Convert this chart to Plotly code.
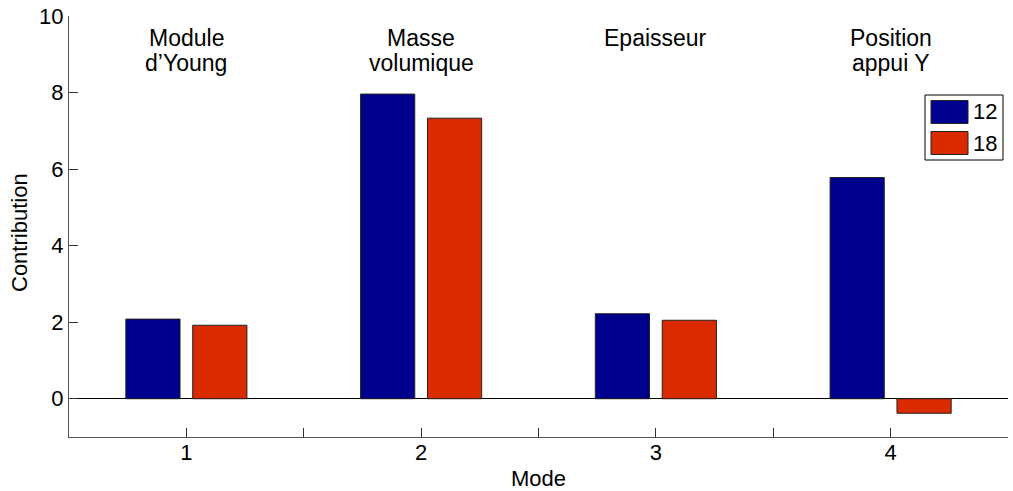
import plotly.graph_objects as go

modes = [1, 2, 3, 4]
series_names = ["12", "18"]
series_colors = ["#00008F", "#DA2A00"]
values_12 = [2.08, 7.96, 2.22, 5.78]
values_18 = [1.92, 7.33, 2.05, -0.38]
param_line1 = ["Module", "Masse", "Epaisseur", "Position"]
param_line2 = ["d’Young", "volumique", "", "appui Y"]
xtick_vals = [0.5, 1, 1.5, 2, 2.5, 3, 3.5, 4, 4.5]
xtick_text = ["", "1", "", "2", "", "3", "", "4", ""]
ytick_vals = [0, 2, 4, 6, 8, 10]

FONT = "Liberation Sans, Arial, sans-serif"
FS = 22
W, H = 1013, 491
L, R, T, B = 69, 5, 16, 54
PW, PH = W - L - R, H - T - B


def px(x):
    return (x - L) / PW


def py(y):
    return (H - B - y) / PH


fig = go.Figure()
for name, vals, col in zip(series_names, [values_12, values_18], series_colors):
    fig.add_trace(go.Bar(x=modes, y=vals, name=name, showlegend=False,
                         marker=dict(color=col, line=dict(color="#222", width=1))))

for m, l1, l2 in zip(modes, param_line1, param_line2):
    fig.add_annotation(x=m, y=py(38), xref="x", yref="paper", yanchor="middle",
                       text=l1, showarrow=False,
                       font=dict(size=23, color="black", family=FONT))
    if l2:
        fig.add_annotation(x=m, y=py(63), xref="x", yref="paper", yanchor="middle",
                           text=l2, showarrow=False,
                           font=dict(size=23, color="black", family=FONT))

# legend (drawn manually to mimic MATLAB legend box)
fig.add_shape(type="rect", xref="paper", yref="paper",
              x0=px(925), x1=px(1003), y0=py(95), y1=py(160),
              line=dict(color="black", width=1), fillcolor="white")
for i, (name, col) in enumerate(zip(series_names, series_colors)):
    yc = 112 + i * 31
    fig.add_shape(type="rect", xref="paper", yref="paper",
                  x0=px(931), x1=px(968), y0=py(yc - 11.5), y1=py(yc + 11.5),
                  line=dict(color="#222", width=1), fillcolor=col)
    fig.add_annotation(x=px(971), y=py(yc), xref="paper", yref="paper",
                       xanchor="left", yanchor="middle", text=name, showarrow=False,
                       font=dict(size=FS, color="black", family=FONT))

fig.add_annotation(x=px(538), y=py(478), xref="paper", yref="paper",
                   text="Mode", showarrow=False, yanchor="middle",
                   font=dict(size=FS, color="black", family=FONT))
fig.add_annotation(x=px(20), y=py(233), xref="paper", yref="paper",
                   text="Contribution", showarrow=False, textangle=-90,
                   xanchor="center", yanchor="middle",
                   font=dict(size=FS, color="black", family=FONT))

fig.update_layout(
    width=W, height=H,
    margin=dict(l=L, r=R, t=T, b=B, autoexpand=False),
    paper_bgcolor="white", plot_bgcolor="white",
    barmode="group", bargap=0.43, bargroupgap=0.19,
    font=dict(family=FONT, size=FS, color="black"),
    showlegend=False,
    xaxis=dict(range=[0.5, 4.5], tickvals=xtick_vals, ticktext=xtick_text,
               ticks="inside", ticklen=9, tickcolor="#333",
               showline=True, linecolor="#555", linewidth=1, mirror=False,
               showgrid=False, zeroline=False, automargin=False,
               ticklabelstandoff=-4,
               tickfont=dict(size=FS)),
    yaxis=dict(range=[-1, 10], tickvals=ytick_vals,
               ticks="inside", ticklen=9, tickcolor="#333",
               showline=True, linecolor="#555", linewidth=1,
               showgrid=False, zeroline=True, zerolinecolor="black", zerolinewidth=1,
               automargin=False, tickfont=dict(size=FS)),
)

fig.write_html("out.html", config={"displayModeBar": False},
               post_script="document.body.style.margin='0';document.body.style.overflow='hidden';")
